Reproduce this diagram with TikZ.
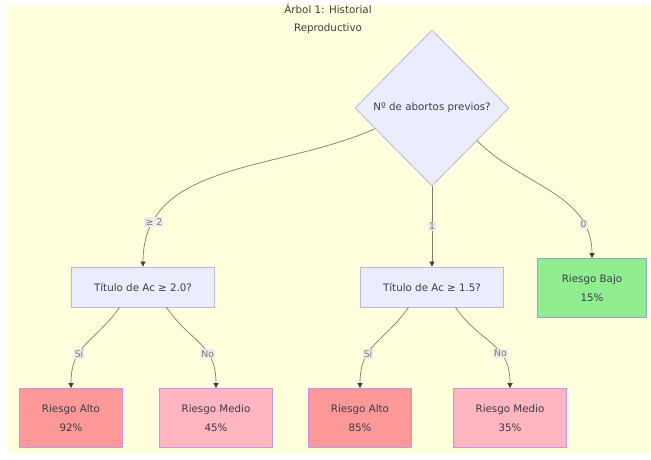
\documentclass[tikz,border=0pt]{standalone}
\usepackage{fontspec}
\setmainfont{DejaVu Sans}
\usetikzlibrary{arrows.meta,positioning,calc,shapes.geometric}
\definecolor{paperYellow}{RGB}{255,255,222}
\definecolor{nodeLilac}{RGB}{236,236,255}
\definecolor{edgeLilac}{RGB}{190,180,235}
\definecolor{lineOlive}{RGB}{125,125,105}
\definecolor{inkGray}{RGB}{60,60,70}
\definecolor{riskHigh}{RGB}{255,153,153}
\definecolor{riskMid}{RGB}{255,182,193}
\definecolor{riskLow}{RGB}{144,238,144}
\definecolor{leafEdge}{RGB}{195,150,230}
\definecolor{lowEdge}{RGB}{150,170,200}
\colorlet{LabelBg}{black!8}

\begin{document}
\begin{tikzpicture}[x=1pt,y=1pt,
        font=\fontsize{10.3}{12}\selectfont,text=inkGray,
        ask/.style={diamond,draw=edgeLilac,fill=nodeLilac,line width=0.8pt,minimum width=154pt,minimum height=156pt,inner sep=0pt},
        test/.style={draw=edgeLilac,fill=nodeLilac,line width=0.8pt,minimum width=143pt,minimum height=40pt},
        leaf/.style={line width=0.8pt,minimum height=59pt,align=center,font=\fontsize{10.3}{19}\selectfont},
        tag/.style={fill=LabelBg,inner sep=1.2pt,font=\fontsize{9.3}{10}\selectfont},
        flow/.style={-{Triangle[length=5pt,width=5pt,color=black!75]},line width=0.7pt,lineOlive}
      ]
        \useasboundingbox (0,0) rectangle (651,459);
        \fill[paperYellow] (8,6) rectangle (651,454);
        \node[align=center,font=\fontsize{10.3}{18}\selectfont] (title) at (328,440) {Árbol 1: Historial\\Reproductivo};
        \node[ask] (q) at (432,351) {Nº de abortos previos?};
        \node[test] (t1) at (143,172) {Título de Ac ≥ 2.0?};
        \node[test] (t2) at (432,172) {Título de Ac ≥ 1.5?};
        \node[leaf,fill=riskLow,draw=lowEdge,minimum width=109pt] (low) at (592,171) {Riesgo Bajo\\15\%};
        \node[leaf,fill=riskHigh,draw=leafEdge,minimum width=103pt] (a1) at (71,41) {Riesgo Alto\\92\%};
        \node[leaf,fill=riskMid,draw=leafEdge,minimum width=113pt] (m1) at (216,41) {Riesgo Medio\\45\%};
        \node[leaf,fill=riskHigh,draw=leafEdge,minimum width=103pt] (a2) at (360,41) {Riesgo Alto\\85\%};
        \node[leaf,fill=riskMid,draw=leafEdge,minimum width=113pt] (m2) at (510,41) {Riesgo Medio\\35\%};
        \draw[flow] (q.200) to[out=204,in=90] node[tag,pos=0.83] {≥ 2} (t1.north);
        \draw[flow] (q.south) -- node[tag] {1} (t2.north);
        \draw[flow] (q.324) to[out=315,in=90] node[tag,pos=0.79] {0} (low.north);
        \draw[flow] (t1.221) to[out=235,in=90,looseness=1.2] node[tag,pos=0.64] {Sí} (a1.north);
        \draw[flow] (t1.319) to[out=305,in=90,looseness=1.2] node[tag,pos=0.64] {No} (m1.north);
        \draw[flow] (t2.221) to[out=235,in=90,looseness=1.2] node[tag,pos=0.64] {Sí} (a2.north);
        \draw[flow] (t2.319) to[out=305,in=90,looseness=1.2] node[tag,pos=0.64] {No} (m2.north);
      \end{tikzpicture}
\end{document}
